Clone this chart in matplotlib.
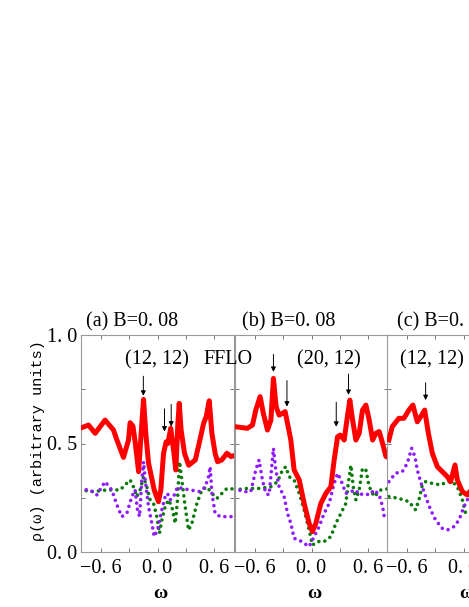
import numpy as np
import matplotlib.pyplot as plt
from matplotlib.ticker import FixedLocator

plt.rcParams['font.family'] = ['Liberation Serif', 'DejaVu Serif']

# ---- panel (a) ----
a_red_x = [-0.82, -0.73, -0.66, -0.555, -0.466, -0.43, -0.36, -0.307, -0.29, -0.26, -0.237, -0.2,
           -0.173, -0.148, -0.124, -0.095, -0.035, 0.01, 0.035, 0.064, 0.092, 0.11, 0.14, 0.17,
           0.194, 0.216, 0.23, 0.25, 0.286, 0.33, 0.40, 0.445, 0.488, 0.516, 0.548, 0.576, 0.61,
           0.636, 0.68, 0.735, 0.777, 0.834]
a_red_y = [0.57, 0.585, 0.547, 0.608, 0.562, 0.516, 0.436, 0.516, 0.596, 0.58, 0.508, 0.37,
           0.547, 0.703, 0.547, 0.41, 0.286, 0.232, 0.286, 0.455, 0.508, 0.50, 0.57, 0.47,
           0.378, 0.593, 0.685, 0.562, 0.455, 0.40, 0.424, 0.508, 0.593, 0.624, 0.697, 0.547, 0.455,
           0.416, 0.424, 0.455, 0.44, 0.447]
a_pur_x = [-0.82, -0.714, -0.643, -0.555, -0.484, -0.43, -0.378, -0.325, -0.272, -0.237, -0.212,
           -0.19, -0.166, -0.148, -0.13, -0.095, -0.06, -0.035, 0.0, 0.046, 0.081, 0.106, 0.134,
           0.17, 0.212, 0.258, 0.346, 0.452, 0.505, 0.54, 0.558, 0.576, 0.61, 0.664, 0.735, 0.788]
a_pur_y = [0.289, 0.286, 0.263, 0.324, 0.286, 0.217, 0.163, 0.178, 0.255, 0.286, 0.194,
           0.163, 0.332, 0.416, 0.332, 0.209, 0.132, 0.071, 0.101, 0.194, 0.255, 0.27, 0.24,
           0.255, 0.30, 0.293, 0.286, 0.278, 0.30, 0.347, 0.393, 0.27, 0.178, 0.163, 0.163, 0.163]
a_grn_x = [-0.82, -0.68, -0.537, -0.396, -0.29, -0.254, -0.219, -0.184, -0.148, -0.113, -0.078,
           -0.042, -0.007, 0.021, 0.046, 0.081, 0.117, 0.152, 0.187, 0.212, 0.233, 0.258, 0.293,
           0.329, 0.364, 0.417, 0.47, 0.523, 0.576, 0.629, 0.682, 0.735, 0.834]
a_grn_y = [0.286, 0.278, 0.286, 0.286, 0.332, 0.30, 0.255, 0.286, 0.347, 0.30, 0.24,
           0.224, 0.163, 0.086, 0.147, 0.209, 0.24, 0.209, 0.132, 0.24, 0.416, 0.332, 0.209,
           0.101, 0.132, 0.224, 0.286, 0.30, 0.27, 0.247, 0.27, 0.293, 0.289]
a_arrow_x = [-0.15, 0.074, 0.145]
a_arrow_top = [0.81, 0.66, 0.68]
a_arrow_tip = [0.72, 0.555, 0.578]

# ---- panel (b) ----
b_red_x = [-0.82, -0.68, -0.625, -0.59, -0.544, -0.51, -0.466, -0.43, -0.403, -0.375, -0.343,
           -0.307, -0.279, -0.254, -0.219, -0.184, -0.13, -0.078, -0.025, 0.01, 0.046, 0.099,
           0.152, 0.205, 0.24, 0.276, 0.304, 0.346, 0.38, 0.406, 0.435, 0.47, 0.505, 0.54, 0.576,
           0.611, 0.647, 0.682, 0.717, 0.753, 0.788, 0.834]
b_red_y = [0.578, 0.57, 0.585, 0.654, 0.716, 0.639, 0.562, 0.608, 0.80, 0.67, 0.631,
           0.639, 0.647, 0.593, 0.516, 0.378, 0.332, 0.224, 0.132, 0.094, 0.132, 0.224,
           0.27, 0.301, 0.424, 0.531, 0.539, 0.516, 0.624, 0.70, 0.608, 0.516, 0.547, 0.654, 0.677,
           0.608, 0.516, 0.547, 0.555, 0.50, 0.44, 0.432]
b_pur_x = [-0.82, -0.714, -0.643, -0.59, -0.555, -0.52, -0.484, -0.449, -0.424, -0.403, -0.378,
           -0.343, -0.29, -0.254, -0.219, -0.184, -0.13, -0.078, -0.025, 0.028, 0.081, 0.134,
           0.187, 0.24, 0.276, 0.311, 0.364, 0.417, 0.47, 0.505, 0.558, 0.611, 0.664, 0.717,
           0.753, 0.77, 0.823]
b_pur_y = [0.293, 0.278, 0.278, 0.378, 0.424, 0.332, 0.27, 0.263, 0.378, 0.478, 0.378,
           0.301, 0.255, 0.178, 0.132, 0.063, 0.055, 0.04, 0.025, 0.071, 0.117, 0.178,
           0.224, 0.316, 0.362, 0.332, 0.27, 0.278, 0.286, 0.263, 0.27, 0.263, 0.286, 0.263,
           0.209, 0.163, 0.155]
b_grn_x = [-0.82, -0.68, -0.537, -0.43, -0.36, -0.307, -0.272, -0.237, -0.184, -0.13, -0.078,
           -0.025, 0.01, 0.064, 0.134, 0.205, 0.258, 0.311, 0.364, 0.389, 0.417, 0.442, 0.47,
           0.505, 0.54, 0.576, 0.611, 0.664, 0.735, 0.834]
b_grn_y = [0.286, 0.293, 0.293, 0.301, 0.324, 0.378, 0.393, 0.347, 0.332, 0.27, 0.194,
           0.101, 0.032, 0.048, 0.048, 0.071, 0.132, 0.178, 0.224, 0.316, 0.40, 0.301, 0.24,
           0.286, 0.386, 0.378, 0.301, 0.255, 0.286, 0.293]
b_arrow_x = [-0.403, -0.26, 0.262, 0.392]
b_arrow_top = [0.91, 0.79, 0.69, 0.82]
b_arrow_tip = [0.83, 0.67, 0.577, 0.724]

# ---- panel (c), only the left part is visible ----
c_red_x = [-0.79, -0.754, -0.684, -0.631, -0.578, -0.536, -0.489, -0.443, -0.411, -0.372, -0.33,
           -0.277, -0.224, -0.171, -0.136, -0.09, -0.065, -0.012, 0.041, 0.07]
c_red_y = [0.516, 0.578, 0.616, 0.616, 0.654, 0.677, 0.60, 0.631, 0.654, 0.547, 0.455,
           0.393, 0.37, 0.347, 0.324, 0.401, 0.332, 0.278, 0.263, 0.28]
c_pur_x = [-0.79, -0.719, -0.648, -0.595, -0.549, -0.514, -0.489, -0.454, -0.401, -0.348, -0.295,
           -0.224, -0.171, -0.101, -0.048, 0.005, 0.041, 0.066]
c_pur_y = [0.324, 0.363, 0.37, 0.409, 0.478, 0.439, 0.378, 0.324, 0.255, 0.194, 0.147,
           0.109, 0.101, 0.117, 0.147, 0.209, 0.24, 0.27]
c_grn_x = [-0.79, -0.684, -0.578, -0.507, -0.472, -0.436, -0.401, -0.33, -0.242, -0.171, -0.118,
           -0.065, -0.012, 0.023, 0.058]
c_grn_y = [0.255, 0.247, 0.232, 0.194, 0.24, 0.309, 0.324, 0.316, 0.309, 0.324, 0.324,
           0.301, 0.24, 0.178, 0.163]
c_arrow_x = [-0.401]
c_arrow_top = [0.78]
c_arrow_tip = [0.70]

titles = ['(a) B=0. 08', '(b) B=0. 08', '(c) B=0. 08']
title_x = [0.03, 0.044, 0.064]
labels = ['(12, 12)', '(20, 12)', '(12, 12)']
label_x = [-0.01, 0.18, -0.337]

xticks = [-0.6, 0.0, 0.6]
xticklabels = ['\u22120. 6', '0. 0', '0. 6']
yticks = [0.0, 0.5, 1.0]
yticklabels = ['0. 0', '0. 5', '1. 0']

RED = '#ff0000'
PURPLE = '#8f1cff'
GREEN = '#0a7a0a'

panels = [
    (a_red_x, a_red_y, a_pur_x, a_pur_y, a_grn_x, a_grn_y, a_arrow_x, a_arrow_top, a_arrow_tip),
    (b_red_x, b_red_y, b_pur_x, b_pur_y, b_grn_x, b_grn_y, b_arrow_x, b_arrow_top, b_arrow_tip),
    (c_red_x, c_red_y, c_pur_x, c_pur_y, c_grn_x, c_grn_y, c_arrow_x, c_arrow_top, c_arrow_tip),
]

fig = plt.figure(figsize=(4.69, 6.07), dpi=100)
W, H = 469, 607
lefts = [81, 235, 387]
width = 153

for i, p in enumerate(panels):
    rx, ry, px_, py_, gx, gy, ax_x, ax_top, ax_tip = p
    ax = fig.add_axes([lefts[i] / W, 1 - 552 / H, width / W, 217 / H])
    ax.plot(gx, gy, color=GREEN, lw=2.6, linestyle=(0, (0.01, 1.7)), dash_capstyle='round', zorder=2)
    ax.plot(px_, py_, color=PURPLE, lw=2.6, linestyle=(0, (0.01, 1.7)), dash_capstyle='round', zorder=2)
    ax.plot(rx, ry, color=RED, lw=3.6, solid_joinstyle='round', zorder=3)
    for x0, yt, yp in zip(ax_x, ax_top, ax_tip):
        ax.annotate('', xy=(x0, yp), xytext=(x0, yt),
                    arrowprops=dict(arrowstyle='-|>', color='black', lw=0.7,
                                    mutation_scale=7, shrinkA=0, shrinkB=0), zorder=4)
    ax.set_xlim(-0.81, 0.81)
    ax.set_ylim(0, 1)
    ax.set_xticks(xticks)
    ax.set_xticklabels(xticklabels)
    ax.xaxis.set_minor_locator(FixedLocator([-0.3, 0.3]))
    ax.yaxis.set_minor_locator(FixedLocator([0.25, 0.75]))
    ax.set_yticks(yticks)
    if i == 0:
        ax.set_yticklabels(yticklabels)
        ax.set_ylabel('\u03c1(\u03c9) (arbitrary units)', fontsize=11,
                      family=['Liberation Mono', 'DejaVu Sans Mono'])
        ax.yaxis.set_label_coords(-0.235, 0.512)
    else:
        ax.set_yticklabels([])
    ax.tick_params(which='both', direction='in', length=3, width=0.7, color='#777777',
                   top=True, right=True, labelsize=14.5, pad=5)
    ax.tick_params(axis='y', pad=3)
    for s in ax.spines.values():
        s.set_color('#999999')
        s.set_linewidth(0.8)
    ax.set_xlabel('\u03c9', fontsize=14, fontweight='bold')
    ax.xaxis.set_label_coords(0.52, -0.15)
    ax.text(title_x[i], 1.061, titles[i], transform=ax.transAxes, ha='left', va='center',
            fontsize=14.5)
    ax.text(label_x[i], 0.887, labels[i], ha='center', va='center', fontsize=14.5)

# FFLO sits across the border of panels (a) and (b)
fig.text(227.5 / W, 1 - 359.5 / H, 'FFLO', ha='center', va='center', fontsize=14.5, zorder=10)

fig.savefig('out.png', dpi=100)
